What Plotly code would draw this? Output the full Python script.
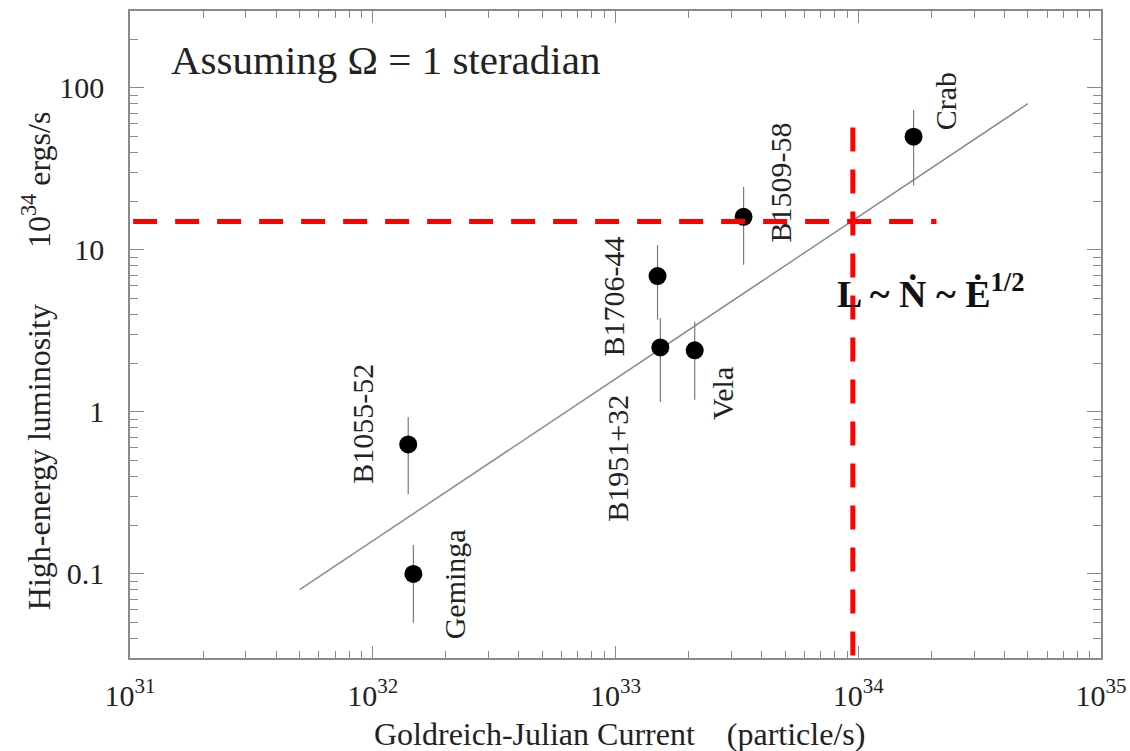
import numpy as np
import plotly.graph_objects as go

# ---- data ----
names = ["Crab", "B1509-58", "B1706-44", "B1951+32", "Vela", "B1055-52", "Geminga"]
current = [1.69e34, 3.37e33, 1.49e33, 1.53e33, 2.12e33, 1.40e32, 1.47e32]
lum = [50, 16, 6.9, 2.5, 2.4, 0.63, 0.10]
lum_hi = [73, 24.5, 10.7, 3.8, 3.6, 0.93, 0.151]
lum_lo = [25, 8.1, 3.7, 1.15, 1.19, 0.31, 0.05]
# label offsets in pixels (dx right, dy up)
label_dx = [32, 37, -45, -43, 28, -46, 42]
label_dy = [35, 34, -21, -111, -43, 21, -10]

fit_x = [5.0e31, 5.0e34]
fit_y = [0.08, 80]

ref_x = 9.5e33     # vertical red dashed line
ref_y = 15         # horizontal red dashed line
ref_xmin = 1.03e31
ref_xmax = 2.1e34
ref_ymin = 0.031
ref_ymax = 57

x_tickvals = [1e31, 1e32, 1e33, 1e34, 1e35]
x_ticktext = ["10<sup>31</sup>", "10<sup>32</sup>", "10<sup>33</sup>", "10<sup>34</sup>", "10<sup>35</sup>"]
y_tickvals = [0.1, 1, 10, 100]
y_ticktext = ["0.1", "1", "10", "100"]

FONT = "Liberation Serif, Times New Roman, serif"
AXC = "#8a8a8a"

fig = go.Figure()

fig.add_trace(go.Scatter(x=fit_x, y=fit_y, mode="lines",
                         line=dict(color="#8c8c8c", width=1.5), showlegend=False))

err_plus = [h - v for h, v in zip(lum_hi, lum)]
err_minus = [v - l for v, l in zip(lum, lum_lo)]
fig.add_trace(go.Scatter(x=current, y=lum, mode="markers",
                         marker=dict(color="black", size=18),
                         error_y=dict(type="data", array=err_plus, arrayminus=err_minus,
                                      color="#7a7a7a", thickness=1.2, width=0),
                         showlegend=False))

fig.add_trace(go.Scatter(x=[ref_xmin, ref_xmax], y=[ref_y, ref_y], mode="lines",
                         line=dict(color="#ff0000", width=5, dash="24px,18px"), showlegend=False))
fig.add_trace(go.Scatter(x=[ref_x, ref_x], y=[ref_ymax, ref_ymin], mode="lines",
                         line=dict(color="#ff0000", width=5, dash="24px,18px"), showlegend=False))

for n, x, y, dx, dy in zip(names, current, lum, label_dx, label_dy):
    fig.add_annotation(x=np.log10(x), y=np.log10(y), xref="x", yref="y", text=n,
                       textangle=-90, showarrow=False, xshift=dx, yshift=dy,
                       font=dict(family=FONT, size=30, color="#222"))

fig.add_annotation(x=0.04, y=0.925, xref="paper", yref="paper", xanchor="left", yanchor="middle",
                   text="Assuming Ω = 1 steradian", showarrow=False,
                   font=dict(family=FONT, size=41, color="#222"))

fig.add_annotation(x=0.825, y=0.568, xref="paper", yref="paper", xanchor="center", yanchor="middle",
                   text="<b>L ~ Ṅ ~ Ė<sup>1/2</sup></b>", showarrow=False,
                   font=dict(family=FONT, size=38, color="#111"))

fig.add_annotation(x=0.504, y=-0.117, xref="paper", yref="paper", xanchor="center", yanchor="middle",
                   text="Goldreich-Julian Current &nbsp;&nbsp;&nbsp;(particle/s)", showarrow=False,
                   font=dict(family=FONT, size=32, color="#222"))

fig.add_annotation(x=-0.096, y=0.46, xref="paper", yref="paper", xanchor="center", yanchor="middle",
                   text="High-energy luminosity &nbsp;&nbsp;&nbsp;&nbsp;&nbsp;&nbsp;10<sup>34</sup> ergs/s",
                   textangle=-90, showarrow=False,
                   font=dict(family=FONT, size=32, color="#222"))

axis_common = dict(showgrid=False, zeroline=False, showline=True, linecolor=AXC, linewidth=1.5,
                   mirror="ticks", ticks="inside", tickcolor=AXC, tickwidth=1.2, automargin=False)

fig.update_xaxes(type="log", range=[31, 35], tickmode="array", tickvals=x_tickvals,
                 ticktext=x_ticktext, ticklen=12, ticklabelstandoff=10,
                 tickfont=dict(family=FONT, size=30, color="#222"),
                 minor=dict(ticks="inside", ticklen=7, tickcolor=AXC, dtick="D1"),
                 **axis_common)
fig.update_yaxes(type="log", range=[-1.519, 2.475], tickmode="array", tickvals=y_tickvals,
                 ticktext=y_ticktext, ticklen=14, ticklabelstandoff=18,
                 tickfont=dict(family=FONT, size=30, color="#222"),
                 minor=dict(ticks="inside", ticklen=8, tickcolor=AXC, dtick="D1"),
                 **axis_common)

fig.update_layout(width=1130, height=751, margin=dict(l=130, r=29, t=11, b=93),
                  plot_bgcolor="white", paper_bgcolor="white", showlegend=False)

fig.write_html("out.html")
